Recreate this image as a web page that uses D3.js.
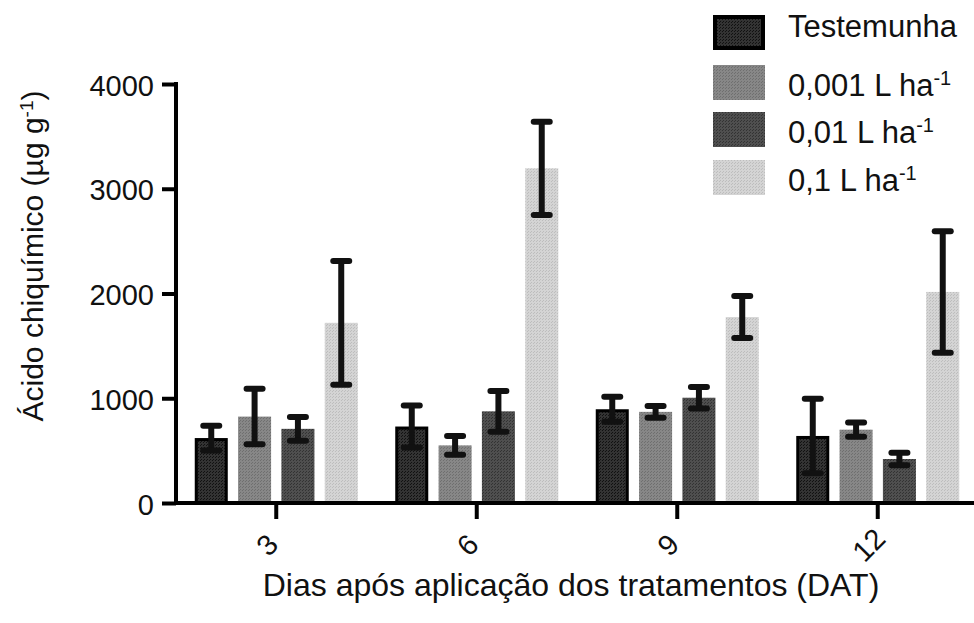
<!DOCTYPE html>
<html><head><meta charset="utf-8">
<script src="https://cdn.jsdelivr.net/npm/d3@7/dist/d3.min.js"></script>
<style>
html,body{margin:0;padding:0;background:#fff;}
text{font-family:"Liberation Sans",Arial,sans-serif;fill:#111;}
</style></head>
<body>
<script>
const categories = ["3","6","9","12"];
const seriesNames = ["Testemunha","0,001 L ha","0,01 L ha","0,1 L ha"];
const seriesSup = ["","-1","-1","-1"];
const means = {
  "Testemunha": [620, 730, 895, 640],
  "0,001 L ha": [825, 550, 870, 700],
  "0,01 L ha":  [708, 875, 1005, 420],
  "0,1 L ha":   [1720, 3195, 1775, 2015]
};
const errors = {
  "Testemunha": [118, 200, 120, 355],
  "0,001 L ha": [265, 90, 55, 68],
  "0,01 L ha":  [113, 195, 103, 60],
  "0,1 L ha":   [590, 445, 200, 580]
};
const yTicks = [0, 1000, 2000, 3000, 4000];
const fills = ["#333333", "#878787", "#4f4f4f", "#d4d4d4"];
const fills2 = ["#111111", "#6f6f6f", "#333333", "#bdbdbd"];

const W = 974, H = 623;
const svg = d3.select("body").append("svg").attr("width", W).attr("height", H);
const defs = svg.append("defs");
fills.forEach((c, i) => {
  const p = defs.append("pattern").attr("id", "pat" + i).attr("width", 3).attr("height", 3)
    .attr("patternUnits", "userSpaceOnUse");
  p.append("rect").attr("width", 3).attr("height", 3).attr("fill", c);
  p.append("rect").attr("x", 0).attr("y", 0).attr("width", 1).attr("height", 1).attr("fill", fills2[i]);
  p.append("rect").attr("x", 2).attr("y", 1).attr("width", 1).attr("height", 1).attr("fill", fills2[i]);
});

const y = d3.scaleLinear().domain([0, 4000]).range([503, 84]);
const x0 = d3.scaleBand().domain(categories).range([176, 978]);
const x1 = d3.scaleBand().domain(seriesNames).range([-81.5, 81.5]).paddingInner(0.238);

// bars
const g = svg.append("g");
categories.forEach((c, ci) => {
  const cx = x0(c) + x0.bandwidth() / 2;
  seriesNames.forEach((s, si) => {
    const v = means[s][ci];
    const bx = cx + x1(s);
    const r = g.append("rect")
      .attr("x", bx).attr("y", y(v))
      .attr("width", x1.bandwidth()).attr("height", y(0) - y(v))
      .attr("fill", "url(#pat" + si + ")");
    if (si === 0) r.attr("stroke", "#000").attr("stroke-width", 3)
      .attr("x", bx + 1.5).attr("width", x1.bandwidth() - 3).attr("y", y(v) + 1.5).attr("height", y(0) - y(v) - 1.5);
  });
});
// error bars
categories.forEach((c, ci) => {
  const cx = x0(c) + x0.bandwidth() / 2;
  seriesNames.forEach((s, si) => {
    const v = means[s][ci], e = errors[s][ci];
    const mx = cx + x1(s) + x1.bandwidth() / 2;
    g.append("line").attr("x1", mx).attr("x2", mx).attr("y1", y(v + e)).attr("y2", y(v - e))
      .attr("stroke", "#111").attr("stroke-width", 6);
    [v + e, v - e].forEach(t => {
      g.append("line").attr("x1", mx - 8).attr("x2", mx + 8).attr("y1", y(t)).attr("y2", y(t))
        .attr("stroke", "#111").attr("stroke-width", 6).attr("stroke-linecap", "round");
    });
  });
});

// y axis
const yAxis = d3.axisLeft(y).tickValues(yTicks).tickSize(14).tickPadding(8).tickFormat(d3.format("d"));
const ya = svg.append("g").attr("transform", "translate(176,0)").call(yAxis);
ya.select(".domain").remove();
ya.append("line").attr("x1", 0).attr("x2", 0).attr("y1", 82).attr("y2", 505).attr("stroke", "#000").attr("stroke-width", 4);
ya.selectAll(".tick line").attr("stroke", "#000").attr("stroke-width", 4);
ya.selectAll(".tick text").attr("font-size", 29).attr("fill", "#111").attr("dy", "0.38em")
  .attr("font-family", "Liberation Sans, Arial, sans-serif");

// x axis
const xAxis = d3.axisBottom(x0).tickSize(16).tickFormat(d => d);
const xa = svg.append("g").attr("transform", "translate(0,503)").call(xAxis);
xa.select(".domain").remove();
xa.append("line").attr("x1", 174).attr("x2", 974).attr("y1", 0).attr("y2", 0).attr("stroke", "#000").attr("stroke-width", 4);
xa.selectAll(".tick line").attr("stroke", "#000").attr("stroke-width", 4);
xa.selectAll(".tick text").attr("font-size", 29).attr("fill", "#111")
  .attr("font-family", "Liberation Sans, Arial, sans-serif")
  .attr("text-anchor", "middle").attr("dy", null).attr("y", null)
  .attr("dominant-baseline", "central")
  .attr("transform", "translate(-9,42) rotate(-45)");

// axis titles
svg.append("text").attr("x", 571).attr("y", 596).attr("text-anchor", "middle")
  .attr("font-size", 32).text("Dias após aplicação dos tratamentos (DAT)");
const yt = svg.append("text").attr("transform", "translate(43,256) rotate(-90)")
  .attr("text-anchor", "middle").attr("font-size", 30);
yt.append("tspan").text("Ácido chiquímico (µg g");
yt.append("tspan").attr("baseline-shift", "super").attr("font-size", 19).text("-1");
yt.append("tspan").text(")");

// legend
const leg = svg.append("g");
const legTop = [15, 65, 112, 160];
seriesNames.forEach((s, i) => {
  const r = leg.append("rect").attr("x", 713).attr("y", legTop[i]).attr("width", 52).attr("height", 35)
    .attr("fill", "url(#pat" + i + ")");
  if (i === 0) r.attr("stroke", "#000").attr("stroke-width", 4).attr("x", 715).attr("y", legTop[i] + 2).attr("width", 48).attr("height", 31);
  const t = leg.append("text").attr("x", 788).attr("y", legTop[i] + (i === 0 ? 22 : 31)).attr("font-size", 31);
  t.append("tspan").text(s);
  if (seriesSup[i]) t.append("tspan").attr("baseline-shift", "super").attr("font-size", 20).text(seriesSup[i]);
});
</script>
</body></html>
